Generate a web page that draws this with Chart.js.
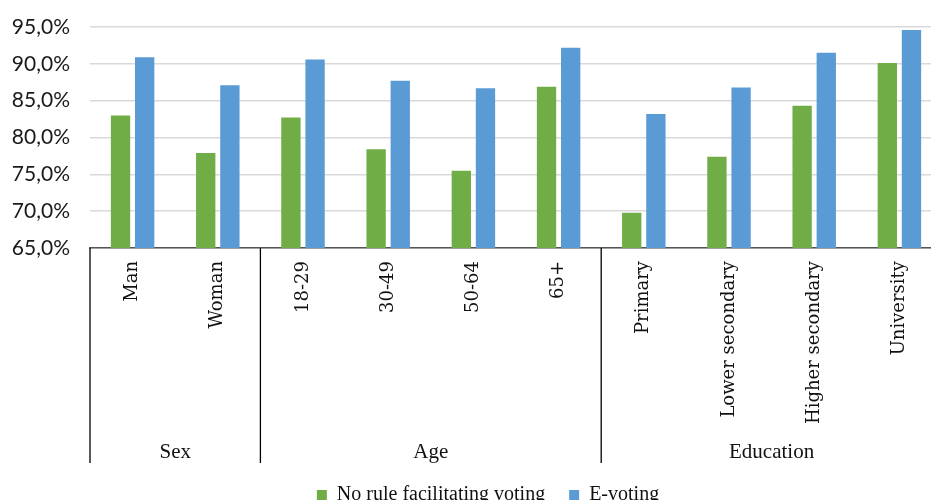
<!DOCTYPE html>
<html>
<head>
<meta charset="utf-8">
<script src="https://cdn.jsdelivr.net/npm/chart.js@4"></script>
<style>
  html, body { margin: 0; padding: 0; background: #fff; overflow: hidden; }
  #wrap { width: 931px; height: 500px; overflow: hidden; }
</style>
</head>
<body>
<div id="wrap"><canvas id="c" width="945" height="500"></canvas></div>
<script>
const categories = ['Man', 'Woman', '18-29', '30-49', '50-64', '65+', 'Primary', 'Lower secondary', 'Higher secondary', 'University'];
const groupLabels = ['Sex', 'Age', 'Education'];
const groupSizes = [2, 4, 4];
const seriesNames = ['No rule facilitating voting', 'E-voting'];
const noRuleValues = [83.0, 77.9, 82.7, 78.4, 75.5, 86.9, 69.8, 77.4, 84.3, 90.1];
const eVotingValues = [90.9, 87.1, 90.6, 87.7, 86.7, 92.2, 83.2, 86.8, 91.5, 94.6];
const yTickValues = [65, 70, 75, 80, 85, 90, 95];
const yTickLabels = ['65,0%', '70,0%', '75,0%', '80,0%', '85,0%', '90,0%', '95,0%'];

const groupPlugin = {
  id: 'groupPlugin',
  afterLayout(chart) {
    if (chart.legend) { chart.legend.left += 17; chart.legend.right += 17; }
  },
  afterDraw(chart) {
    const ctx = chart.ctx;
    const xs = chart.scales.x;
    const n = categories.length;
    const step = xs.width / n;
    const top = chart.chartArea.bottom;
    const bottom = 463;
    ctx.save();
    ctx.strokeStyle = '#000';
    ctx.lineWidth = 1.3;
    let start = 0;
    const bounds = [xs.getPixelForValue(0) - step / 2];
    groupSizes.forEach(s => {
      start += s;
      bounds.push(xs.getPixelForValue(start - 1) + step / 2);
    });
    bounds.forEach(b => {
      ctx.beginPath();
      ctx.moveTo(b, top);
      ctx.lineTo(b, bottom);
      ctx.stroke();
    });
    ctx.fillStyle = '#111';
    ctx.font = '21px "Liberation Serif"';
    ctx.textAlign = 'center';
    ctx.textBaseline = 'middle';
    groupLabels.forEach((g, i) => {
      ctx.fillText(g, (bounds[i] + bounds[i + 1]) / 2, 452);
    });
    ctx.restore();
  }
};

new Chart(document.getElementById('c'), {
  type: 'bar',
  data: {
    labels: categories,
    datasets: [
      { label: seriesNames[0], data: noRuleValues, backgroundColor: '#70AD47', borderWidth: 0,
        categoryPercentage: 0.567, barPercentage: 0.8 },
      { label: seriesNames[1], data: eVotingValues, backgroundColor: '#5B9BD5', borderWidth: 0,
        categoryPercentage: 0.567, barPercentage: 0.8 }
    ]
  },
  options: {
    responsive: false,
    animation: false,
    devicePixelRatio: 1,
    layout: { padding: { top: 27, left: 0, right: 3, bottom: -15 } },
    plugins: {
      tooltip: { enabled: false },
      legend: {
        position: 'bottom',
        labels: {
          boxWidth: 10, boxHeight: 10, padding: 24,
          color: '#111',
          font: { family: '"Liberation Serif"', size: 20 }
        }
      }
    },
    scales: {
      x: {
        offset: true,
        grid: { display: false, drawTicks: false },
        border: { display: true, color: '#555', width: 1.5 },
        ticks: {
          autoSkip: false, minRotation: 90, maxRotation: 90, padding: 13,
          color: '#111',
          font: { family: '"DejaVu Serif"', size: 18 }
        },
        afterFit(s) { s.height = 213; }
      },
      y: {
        min: 65, max: 95,
        grid: { color: '#d9d9d9', lineWidth: 1.5, drawTicks: true, tickLength: 17, tickColor: 'rgba(0,0,0,0)' },
        border: { display: false },
        afterBuildTicks(s) { s.ticks = yTickValues.map(v => ({ value: v })); },
        ticks: {
          padding: 3,
          color: '#1a1a1a',
          font: { family: 'Lato', size: 21 },
          callback: (v) => yTickLabels[yTickValues.indexOf(v)]
        },
        afterFit(s) { s.width = 90; }
      }
    }
  },
  plugins: [groupPlugin]
});
</script>
</body>
</html>
